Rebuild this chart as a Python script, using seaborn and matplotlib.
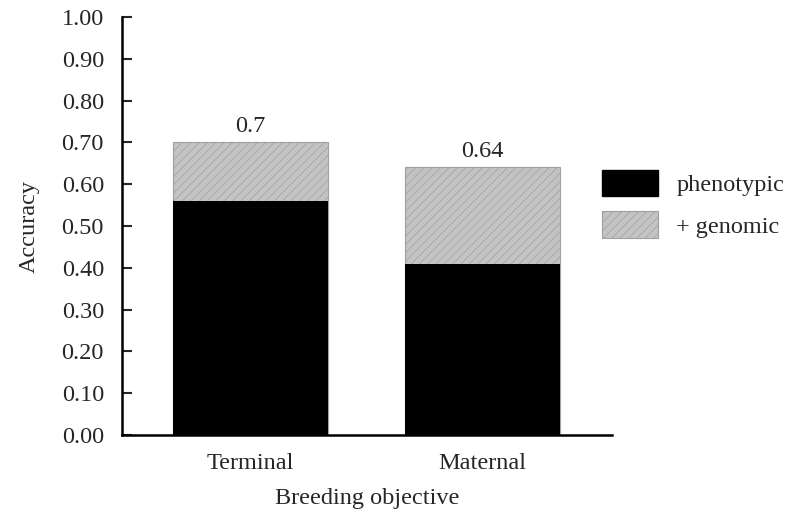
import matplotlib
matplotlib.use("Agg")
import matplotlib.pyplot as plt
from matplotlib.patches import Patch
import seaborn as sns
import pandas as pd

# values
objectives = ["Terminal", "Maternal"]
phenotypic = [0.56, 0.41]
with_genomic = [0.70, 0.64]
total_labels = ["0.7", "0.64"]

df = pd.DataFrame({"objective": objectives,
                   "phenotypic": phenotypic,
                   "genomic": with_genomic})

sns.set_theme(style="ticks")
plt.rcParams["font.family"] = ["Liberation Serif", "DejaVu Serif"]
plt.rcParams["hatch.color"] = "#b9b9b9"
plt.rcParams["hatch.linewidth"] = 0.5

FS = 17.5
GREY = "#c3c3c3"

fig = plt.figure(figsize=(7.85, 5.11), dpi=100)
ax = fig.add_axes([0.1554, 0.1487, 0.6242, 0.818])

# total accuracy (+ genomic) behind, phenotypic in front
sns.barplot(data=df, x="objective", y="genomic", color=GREY,
            saturation=1, width=0.668, ax=ax, edgecolor="#a0a0a0",
            linewidth=0.8, hatch="////")
sns.barplot(data=df, x="objective", y="phenotypic", color="black",
            saturation=1, width=0.668, ax=ax, edgecolor="black", linewidth=0)

for i, (v, lab) in enumerate(zip(with_genomic, total_labels)):
    ax.text(i, v + 0.013, lab, ha="center", va="bottom", fontsize=FS)

ax.set_xlim(-0.554, 1.558)
ax.set_ylim(0, 1.0)
ax.set_yticks([i / 10 for i in range(11)])
ax.set_yticklabels([f"{i / 10:.2f}" for i in range(11)], fontsize=FS)
ax.tick_params(axis="y", direction="in", length=7, width=1.5, pad=13)
ax.tick_params(axis="x", length=0, labelsize=FS, pad=13)
ax.set_xlabel("Breeding objective", fontsize=FS, labelpad=10)
ax.set_ylabel("Accuracy", fontsize=FS, labelpad=16)
for s in ["top", "right"]:
    ax.spines[s].set_visible(False)
for s in ["left", "bottom"]:
    ax.spines[s].set_linewidth(1.8)
    ax.spines[s].set_color("black")

handles = [Patch(facecolor="black", edgecolor="black", label="phenotypic"),
           Patch(facecolor=GREY, edgecolor="#a0a0a0", hatch="////",
                 linewidth=0.8, label="+ genomic")]
fig.legend(handles=handles, loc="upper left", bbox_to_anchor=(0.767, 0.668),
           frameon=False, fontsize=FS, handlelength=2.3, handleheight=1.3,
           handletextpad=0.75, labelspacing=0.62, borderpad=0, borderaxespad=0)

fig.savefig("out.png", dpi=100)
